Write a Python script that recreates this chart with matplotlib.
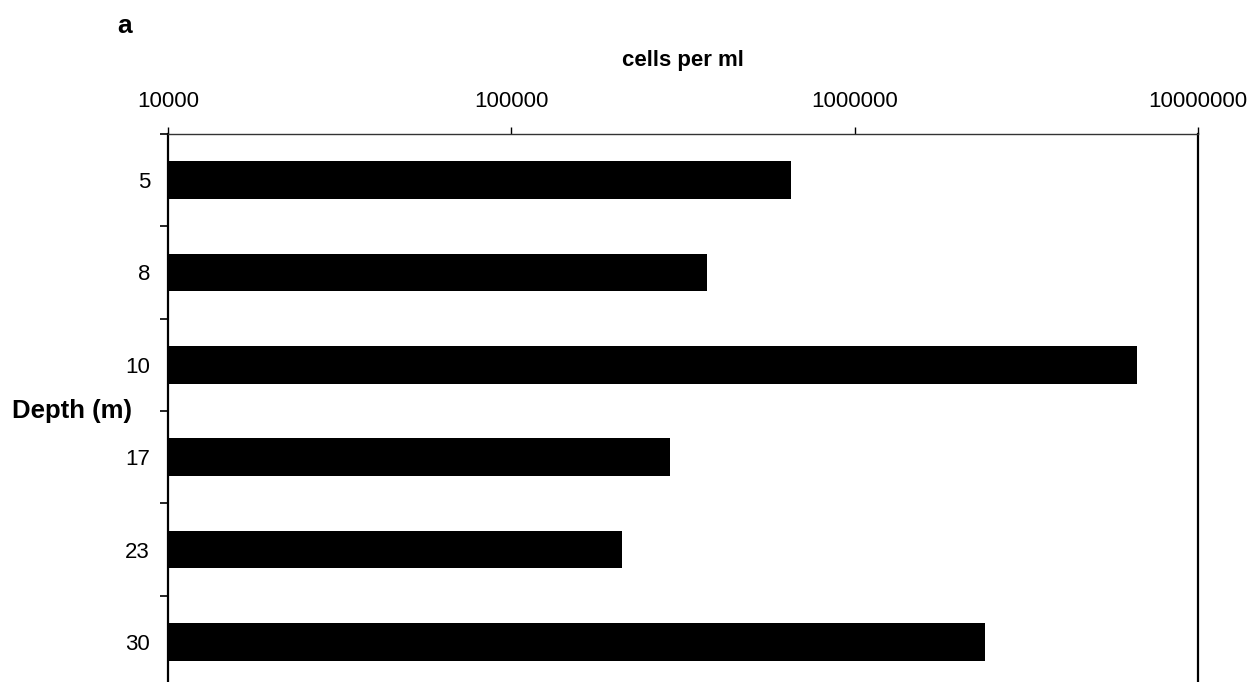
import matplotlib
matplotlib.use('Agg')
import matplotlib.pyplot as plt
import numpy as np

plt.rcParams['font.family'] = ['Liberation Sans', 'DejaVu Sans']

# 数据
depths = ['5', '8', '10', '17', '23', '30']
cells = [653000, 371000, 6650000, 290000, 210000, 2400000]
xticks = [1e4, 1e5, 1e6, 1e7]
xticklabels = ['10000', '100000', '1000000', '10000000']

fig = plt.figure(figsize=(12.52, 6.82), dpi=100)
# 坐标轴下边界超出画布（原图被裁切）
ax = fig.add_axes([168 / 1252, -6 / 682, 1030 / 1252, 554 / 682])

pos = np.arange(len(depths))
ax.barh(pos, cells, height=0.405, color='black', edgecolor='none', log=True)

ax.set_xscale('log')
ax.set_xlim(1e4, 1e7)
ax.set_ylim(len(depths) - 0.5, -0.5)

ax.xaxis.tick_top()
ax.set_xticks(xticks)
ax.set_xticklabels(xticklabels, fontsize=16)
ax.xaxis.set_minor_locator(matplotlib.ticker.NullLocator())
ax.tick_params(axis='x', which='major', direction='out', length=5, width=1, pad=11)

# y 轴刻度线在分隔处，标签在中间
ax.set_yticks(np.arange(-0.5, len(depths), 1.0))
ax.set_yticklabels([])
ax.set_yticks(pos, minor=True)
ax.set_yticklabels(depths, minor=True, fontsize=16)
ax.tick_params(axis='y', which='major', direction='out', length=6, width=1.2)
ax.tick_params(axis='y', which='minor', length=0, pad=13)

ax.spines['left'].set_linewidth(1.6)
ax.spines['right'].set_linewidth(1.6)
ax.spines['top'].set_linewidth(1.0)
ax.spines['top'].set_color('#333333')
ax.spines['bottom'].set_visible(False)

fig.text(683 / 1252, 1 - 66 / 682, 'cells per ml', fontsize=16, fontweight='bold',
         ha='center', va='baseline')
fig.text(12 / 1252, 1 - 411 / 682, 'Depth (m)', fontsize=18.5, fontweight='bold',
         ha='left', va='center')
fig.text(117 / 1252, 1 - 33 / 682, 'a', fontsize=19, fontweight='bold',
         ha='left', va='baseline')

fig.savefig('out.png', dpi=100)
